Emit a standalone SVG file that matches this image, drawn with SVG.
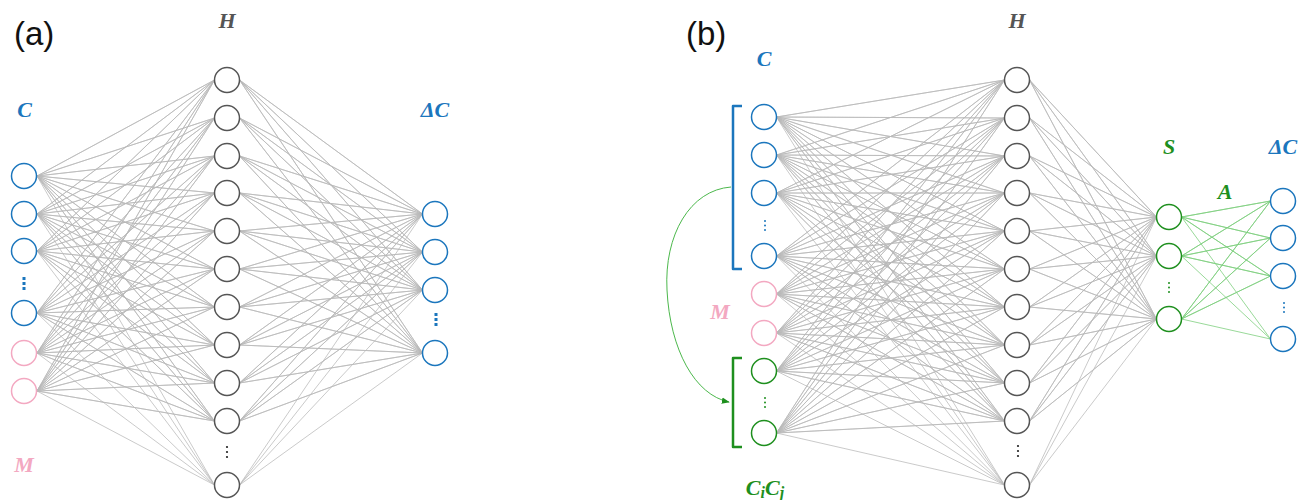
<svg xmlns="http://www.w3.org/2000/svg" width="1299" height="500" viewBox="0 0 1299 500">
<defs>
<style>
.lbl{font-family:"Liberation Serif","DejaVu Serif",serif;font-weight:bold;font-style:italic;font-size:22px;text-anchor:middle}
.pl{font-family:"Liberation Sans",Arial,sans-serif;font-size:33px;fill:#111}
.n{fill:#fff;stroke-width:1.5}
.blue{stroke:#1b76bd}.pink{stroke:#f3a8c1}.green{stroke:#1e8f1e}.gray{stroke:#555}
.ln{fill:none;stroke:#b8b8b8;stroke-width:0.75;stroke-linejoin:round}
.lg{fill:none;stroke:#7fcf7f;stroke-width:0.8;stroke-linejoin:round}
</style>
<marker id="arr" viewBox="0 0 10 10" refX="9" refY="5" markerWidth="8" markerHeight="8" markerUnits="userSpaceOnUse" orient="auto"><path d="M0 1L10 5L0 9z" fill="#1e8f1e"/></marker>
</defs>
<rect width="1299" height="500" fill="#fff"/>
<g id="connectors">
<path class="ln" d="M37 176L214.5 80 37 176 214.5 118 37 176 214.5 156 37 176 214.5 193 37 176 214.5 231 37 176 214.5 269 37 176 214.5 307 37 176 214.5 345 37 176 214.5 383 37 176 214.5 421 37 176 214.5 485"/>
<path class="ln" d="M37 214L214.5 80 37 214 214.5 118 37 214 214.5 156 37 214 214.5 193 37 214 214.5 231 37 214 214.5 269 37 214 214.5 307 37 214 214.5 345 37 214 214.5 383 37 214 214.5 421 37 214 214.5 485"/>
<path class="ln" d="M37 251L214.5 80 37 251 214.5 118 37 251 214.5 156 37 251 214.5 193 37 251 214.5 231 37 251 214.5 269 37 251 214.5 307 37 251 214.5 345 37 251 214.5 383 37 251 214.5 421 37 251 214.5 485"/>
<path class="ln" d="M37 313L214.5 80 37 313 214.5 118 37 313 214.5 156 37 313 214.5 193 37 313 214.5 231 37 313 214.5 269 37 313 214.5 307 37 313 214.5 345 37 313 214.5 383 37 313 214.5 421 37 313 214.5 485"/>
<path class="ln" d="M37 353L214.5 80 37 353 214.5 118 37 353 214.5 156 37 353 214.5 193 37 353 214.5 231 37 353 214.5 269 37 353 214.5 307 37 353 214.5 345 37 353 214.5 383 37 353 214.5 421 37 353 214.5 485"/>
<path class="ln" d="M37 391L214.5 80 37 391 214.5 118 37 391 214.5 156 37 391 214.5 193 37 391 214.5 231 37 391 214.5 269 37 391 214.5 307 37 391 214.5 345 37 391 214.5 383 37 391 214.5 421 37 391 214.5 485"/>
<path class="ln" d="M422.5 214L239.5 80 422.5 214 239.5 118 422.5 214 239.5 156 422.5 214 239.5 193 422.5 214 239.5 231 422.5 214 239.5 269 422.5 214 239.5 307 422.5 214 239.5 345 422.5 214 239.5 383 422.5 214 239.5 421 422.5 214 239.5 485"/>
<path class="ln" d="M422.5 252L239.5 80 422.5 252 239.5 118 422.5 252 239.5 156 422.5 252 239.5 193 422.5 252 239.5 231 422.5 252 239.5 269 422.5 252 239.5 307 422.5 252 239.5 345 422.5 252 239.5 383 422.5 252 239.5 421 422.5 252 239.5 485"/>
<path class="ln" d="M422.5 290L239.5 80 422.5 290 239.5 118 422.5 290 239.5 156 422.5 290 239.5 193 422.5 290 239.5 231 422.5 290 239.5 269 422.5 290 239.5 307 422.5 290 239.5 345 422.5 290 239.5 383 422.5 290 239.5 421 422.5 290 239.5 485"/>
<path class="ln" d="M422.5 353L239.5 80 422.5 353 239.5 118 422.5 353 239.5 156 422.5 353 239.5 193 422.5 353 239.5 231 422.5 353 239.5 269 422.5 353 239.5 307 422.5 353 239.5 345 422.5 353 239.5 383 422.5 353 239.5 421 422.5 353 239.5 485"/>
<path class="ln" d="M776.5 117L1004.5 80 776.5 117 1004.5 118 776.5 117 1004.5 156 776.5 117 1004.5 193 776.5 117 1004.5 231 776.5 117 1004.5 269 776.5 117 1004.5 307 776.5 117 1004.5 345 776.5 117 1004.5 383 776.5 117 1004.5 421 776.5 117 1004.5 485"/>
<path class="ln" d="M776.5 155L1004.5 80 776.5 155 1004.5 118 776.5 155 1004.5 156 776.5 155 1004.5 193 776.5 155 1004.5 231 776.5 155 1004.5 269 776.5 155 1004.5 307 776.5 155 1004.5 345 776.5 155 1004.5 383 776.5 155 1004.5 421 776.5 155 1004.5 485"/>
<path class="ln" d="M776.5 193L1004.5 80 776.5 193 1004.5 118 776.5 193 1004.5 156 776.5 193 1004.5 193 776.5 193 1004.5 231 776.5 193 1004.5 269 776.5 193 1004.5 307 776.5 193 1004.5 345 776.5 193 1004.5 383 776.5 193 1004.5 421 776.5 193 1004.5 485"/>
<path class="ln" d="M776.5 256L1004.5 80 776.5 256 1004.5 118 776.5 256 1004.5 156 776.5 256 1004.5 193 776.5 256 1004.5 231 776.5 256 1004.5 269 776.5 256 1004.5 307 776.5 256 1004.5 345 776.5 256 1004.5 383 776.5 256 1004.5 421 776.5 256 1004.5 485"/>
<path class="ln" d="M776.5 294L1004.5 80 776.5 294 1004.5 118 776.5 294 1004.5 156 776.5 294 1004.5 193 776.5 294 1004.5 231 776.5 294 1004.5 269 776.5 294 1004.5 307 776.5 294 1004.5 345 776.5 294 1004.5 383 776.5 294 1004.5 421 776.5 294 1004.5 485"/>
<path class="ln" d="M776.5 333L1004.5 80 776.5 333 1004.5 118 776.5 333 1004.5 156 776.5 333 1004.5 193 776.5 333 1004.5 231 776.5 333 1004.5 269 776.5 333 1004.5 307 776.5 333 1004.5 345 776.5 333 1004.5 383 776.5 333 1004.5 421 776.5 333 1004.5 485"/>
<path class="ln" d="M776.5 371L1004.5 80 776.5 371 1004.5 118 776.5 371 1004.5 156 776.5 371 1004.5 193 776.5 371 1004.5 231 776.5 371 1004.5 269 776.5 371 1004.5 307 776.5 371 1004.5 345 776.5 371 1004.5 383 776.5 371 1004.5 421 776.5 371 1004.5 485"/>
<path class="ln" d="M776.5 433L1004.5 80 776.5 433 1004.5 118 776.5 433 1004.5 156 776.5 433 1004.5 193 776.5 433 1004.5 231 776.5 433 1004.5 269 776.5 433 1004.5 307 776.5 433 1004.5 345 776.5 433 1004.5 383 776.5 433 1004.5 421 776.5 433 1004.5 485"/>
<path class="ln" d="M1156.5 217L1029.5 80 1156.5 217 1029.5 118 1156.5 217 1029.5 156 1156.5 217 1029.5 193 1156.5 217 1029.5 231 1156.5 217 1029.5 269 1156.5 217 1029.5 307 1156.5 217 1029.5 345 1156.5 217 1029.5 383 1156.5 217 1029.5 421 1156.5 217 1029.5 485"/>
<path class="ln" d="M1156.5 256L1029.5 80 1156.5 256 1029.5 118 1156.5 256 1029.5 156 1156.5 256 1029.5 193 1156.5 256 1029.5 231 1156.5 256 1029.5 269 1156.5 256 1029.5 307 1156.5 256 1029.5 345 1156.5 256 1029.5 383 1156.5 256 1029.5 421 1156.5 256 1029.5 485"/>
<path class="ln" d="M1156.5 319L1029.5 80 1156.5 319 1029.5 118 1156.5 319 1029.5 156 1156.5 319 1029.5 193 1156.5 319 1029.5 231 1156.5 319 1029.5 269 1156.5 319 1029.5 307 1156.5 319 1029.5 345 1156.5 319 1029.5 383 1156.5 319 1029.5 421 1156.5 319 1029.5 485"/>
<path class="lg" d="M1181.5 217L1270.5 201 1181.5 217 1270.5 238 1181.5 217 1270.5 276 1181.5 217 1270.5 339"/>
<path class="lg" d="M1181.5 256L1270.5 201 1181.5 256 1270.5 238 1181.5 256 1270.5 276 1181.5 256 1270.5 339"/>
<path class="lg" d="M1181.5 319L1270.5 201 1181.5 319 1270.5 238 1181.5 319 1270.5 276 1181.5 319 1270.5 339"/>
<path d="M731 187C690 190 664 235 667 290C670 350 695 395 729 402" fill="none" stroke="#4cb84c" stroke-width="1" marker-end="url(#arr)"/>
</g>
<g id="panel-labels">
<text class="pl" x="14" y="45">(a)</text>
<text class="pl" x="686" y="45">(b)</text>
</g>
<g id="a-input">
<text class="lbl" x="24.5" y="117" fill="#1b76bd">C</text>
<circle class="n blue" cx="24" cy="176" r="12.5"/>
<circle class="n blue" cx="24" cy="214" r="12.5"/>
<circle class="n blue" cx="24" cy="251" r="12.5"/>
<g fill="#1b76bd"><rect x="22.5" y="277" width="3" height="3"/><rect x="22.5" y="282" width="3" height="3"/><rect x="22.5" y="287" width="3" height="3"/></g>
<circle class="n blue" cx="24" cy="313" r="12.5"/>
<circle class="n pink" cx="24" cy="353" r="12.5"/>
<circle class="n pink" cx="24" cy="391" r="12.5"/>
<text class="lbl" x="24" y="472" fill="#f3a8c1">M</text>
</g>
<g id="a-hidden">
<text class="lbl" x="227" y="28" fill="#555">H</text>
<circle class="n gray" cx="227" cy="80" r="12.5"/>
<circle class="n gray" cx="227" cy="118" r="12.5"/>
<circle class="n gray" cx="227" cy="156" r="12.5"/>
<circle class="n gray" cx="227" cy="193" r="12.5"/>
<circle class="n gray" cx="227" cy="231" r="12.5"/>
<circle class="n gray" cx="227" cy="269" r="12.5"/>
<circle class="n gray" cx="227" cy="307" r="12.5"/>
<circle class="n gray" cx="227" cy="345" r="12.5"/>
<circle class="n gray" cx="227" cy="383" r="12.5"/>
<circle class="n gray" cx="227" cy="421" r="12.5"/>
<g fill="#222"><circle cx="227" cy="447" r="1.1"/><circle cx="227" cy="452" r="1.1"/><circle cx="227" cy="457" r="1.1"/></g>
<circle class="n gray" cx="227" cy="485" r="12.5"/>
</g>
<g id="a-output">
<text class="lbl" x="435" y="117" fill="#1b76bd">ΔC</text>
<circle class="n blue" cx="435" cy="214" r="12.5"/>
<circle class="n blue" cx="435" cy="252" r="12.5"/>
<circle class="n blue" cx="435" cy="290" r="12.5"/>
<g fill="#1b76bd"><rect x="434.5" y="313" width="3" height="3"/><rect x="434.5" y="318" width="3" height="3"/><rect x="434.5" y="323" width="3" height="3"/></g>
<circle class="n blue" cx="435" cy="353" r="12.5"/>
</g>
<g id="b-input">
<text class="lbl" x="764" y="66" fill="#1b76bd">C</text>
<path d="M742 106H733V269H742" fill="none" stroke="#1b76bd" stroke-width="2.5" stroke-linejoin="round"/>
<circle class="n blue" cx="764" cy="117" r="12.5"/>
<circle class="n blue" cx="764" cy="155" r="12.5"/>
<circle class="n blue" cx="764" cy="193" r="12.5"/>
<g fill="#1b76bd"><circle cx="765" cy="221" r="1"/><circle cx="765" cy="225.5" r="1"/><circle cx="765" cy="230" r="1"/></g>
<circle class="n blue" cx="764" cy="256" r="12.5"/>
<circle class="n pink" cx="764" cy="294" r="12.5"/>
<circle class="n pink" cx="764" cy="333" r="12.5"/>
<text class="lbl" x="720" y="319" fill="#f3a8c1">M</text>
<path d="M742 358H733V447H742" fill="none" stroke="#1e8f1e" stroke-width="2.5" stroke-linejoin="round"/>
<circle class="n green" cx="764" cy="371" r="12.5"/>
<g fill="#1e8f1e"><circle cx="765" cy="398" r="1"/><circle cx="765" cy="402.5" r="1"/><circle cx="765" cy="407" r="1"/></g>
<circle class="n green" cx="764" cy="433" r="12.5"/>
<text class="lbl" x="765" y="495" fill="#1e8f1e">C<tspan font-size="16" dy="3">i</tspan><tspan dy="-3">C</tspan><tspan font-size="16" dy="3">j</tspan></text>
</g>
<g id="b-hidden">
<text class="lbl" x="1017" y="28" fill="#555">H</text>
<circle class="n gray" cx="1017" cy="80" r="12.5"/>
<circle class="n gray" cx="1017" cy="118" r="12.5"/>
<circle class="n gray" cx="1017" cy="156" r="12.5"/>
<circle class="n gray" cx="1017" cy="193" r="12.5"/>
<circle class="n gray" cx="1017" cy="231" r="12.5"/>
<circle class="n gray" cx="1017" cy="269" r="12.5"/>
<circle class="n gray" cx="1017" cy="307" r="12.5"/>
<circle class="n gray" cx="1017" cy="345" r="12.5"/>
<circle class="n gray" cx="1017" cy="383" r="12.5"/>
<circle class="n gray" cx="1017" cy="421" r="12.5"/>
<g fill="#222"><circle cx="1018" cy="446" r="1.1"/><circle cx="1018" cy="451" r="1.1"/><circle cx="1018" cy="456" r="1.1"/></g>
<circle class="n gray" cx="1017" cy="485" r="12.5"/>
</g>
<g id="b-s">
<text class="lbl" x="1169" y="154" fill="#1e8f1e">S</text>
<circle class="n green" cx="1169" cy="217" r="12.5"/>
<circle class="n green" cx="1169" cy="256" r="12.5"/>
<g fill="#1e8f1e"><circle cx="1169" cy="283" r="1"/><circle cx="1169" cy="287.5" r="1"/><circle cx="1169" cy="292" r="1"/></g>
<circle class="n green" cx="1169" cy="319" r="12.5"/>
<text class="lbl" x="1225" y="199" fill="#1e8f1e">A</text>
</g>
<g id="b-output">
<text class="lbl" x="1283" y="154" fill="#1b76bd">ΔC</text>
<circle class="n blue" cx="1283" cy="201" r="12.5"/>
<circle class="n blue" cx="1283" cy="238" r="12.5"/>
<circle class="n blue" cx="1283" cy="276" r="12.5"/>
<g fill="#1b76bd"><circle cx="1284" cy="303" r="1"/><circle cx="1284" cy="307.5" r="1"/><circle cx="1284" cy="312" r="1"/></g>
<circle class="n blue" cx="1283" cy="339" r="12.5"/>
</g>
</svg>
